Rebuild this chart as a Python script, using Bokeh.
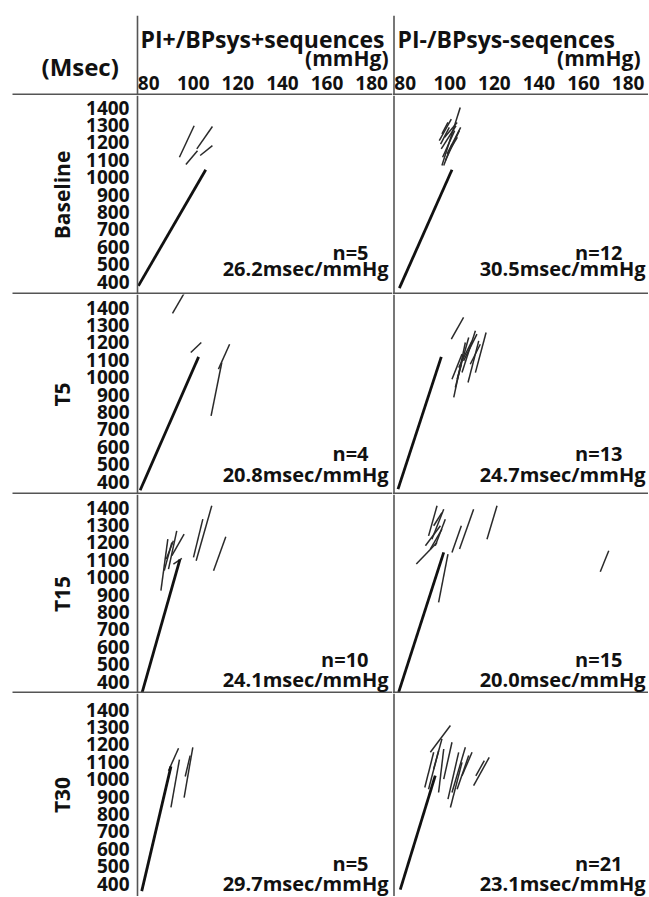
from bokeh.plotting import figure
from bokeh.layouts import column, row
from bokeh.models import Range1d, LinearAxis, FixedTicker, Label, Span, ColumnDataSource
from bokeh.embed import file_html
from bokeh.resources import INLINE

# ---------------- data ----------------
row_names = ["Baseline", "T5", "T15", "T30"]
col_titles = ["PI+/BPsys+sequences", "PI-/BPsys-seqences"]
y_unit = "(Msec)"
x_unit = "(mmHg)"
x_ticks = [80, 100, 120, 140, 160, 180]
y_ticks = [400, 500, 600, 700, 800, 900, 1000, 1100, 1200, 1300, 1400]

n_plus = [5, 4, 10, 5]
slope_plus = [26.2, 20.8, 24.1, 29.7]
n_minus = [12, 13, 15, 21]
slope_minus = [30.5, 24.7, 20.0, 23.1]

# regression lines (x0, y0, x1, y1) in mmHg / msec
reg_plus = [(75.4, 375, 105.6, 1042), (76.2, 350, 102.4, 1116),
            (76.9, 329, 94.0, 1100), (76.9, 356, 90.0, 1073)]
reg_minus = [(77.4, 362, 101.0, 1042), (76.8, 356, 96.2, 1116),
             (77.1, 339, 97.3, 1142), (77.8, 365, 93.5, 1020)]

# individual sequences (x0, y0, x1, y1)
seq_baseline_plus = [(93.8, 1114, 100.4, 1295), (96.7, 1072, 101.9, 1152),
                     (101.6, 1162, 108.6, 1291), (103.1, 1124, 108.6, 1181)]
seq_baseline_minus = [(96.5, 1067, 104.7, 1400), (95.3, 1210, 100.7, 1333),
                      (96.2, 1162, 102.8, 1295), (96.8, 1114, 102.2, 1267),
                      (98.0, 1095, 104.3, 1267), (97.3, 1067, 101.0, 1190),
                      (98.8, 1133, 104.9, 1286), (95.9, 1190, 99.8, 1286),
                      (97.7, 1229, 103.3, 1314), (99.8, 1152, 103.4, 1229),
                      (96.5, 1248, 99.2, 1314)]
seq_t5_plus = [(90.7, 1366, 96.3, 1490), (98.9, 1141, 103.6, 1199),
               (108.0, 777, 112.8, 1084), (111.3, 1046, 116.3, 1189)]
seq_t5_minus = [(100.7, 1218, 106.2, 1343), (101.8, 883, 107.0, 1199),
                (103.3, 988, 108.5, 1228), (105.5, 1026, 111.5, 1266),
                (108.2, 969, 113.0, 1208), (111.5, 1026, 116.3, 1256),
                (101.0, 988, 105.5, 1132), (104.0, 1055, 110.0, 1208),
                (106.2, 1093, 112.2, 1247), (109.2, 1074, 113.7, 1189),
                (102.5, 940, 105.2, 1074)]
seq_t15_plus = [(85.5, 922, 88.6, 1218), (87.0, 1037, 90.4, 1199),
                (88.9, 1046, 92.6, 1266), (90.4, 1123, 95.9, 1247),
                (100.1, 1113, 104.3, 1333), (101.3, 1094, 108.3, 1410),
                (109.1, 1037, 114.6, 1232), (87.9, 1104, 91.1, 1209),
                (91.1, 1075, 94.9, 1107)]
seq_t15_minus = [(85.0, 1075, 94.3, 1199), (90.5, 1237, 94.3, 1410),
                 (92.0, 1218, 97.3, 1390), (93.5, 1180, 98.0, 1333),
                 (95.0, 855, 99.2, 1132), (101.0, 1142, 105.2, 1295),
                 (104.4, 1161, 110.7, 1390), (116.7, 1218, 121.2, 1410),
                 (167.5, 1031, 171.3, 1151), (89.1, 1180, 95.8, 1295),
                 (91.3, 1161, 96.5, 1276), (92.8, 1295, 96.5, 1371)]
seq_t30_plus = [(90.0, 837, 93.8, 1112), (88.9, 1048, 93.4, 1177),
                (95.9, 894, 99.8, 1183), (96.4, 1015, 98.6, 1135)]
seq_t30_minus = [(91.3, 1154, 100.3, 1308), (88.8, 952, 92.8, 1154),
                 (90.5, 942, 95.0, 1163), (95.0, 923, 97.3, 1173),
                 (97.3, 1000, 101.0, 1212), (99.2, 885, 104.0, 1154),
                 (100.3, 837, 105.5, 1096), (101.0, 923, 107.0, 1183),
                 (103.3, 942, 108.5, 1135), (105.5, 1019, 110.0, 1154),
                 (110.7, 962, 117.7, 1125), (111.7, 1019, 115.5, 1106),
                 (92.8, 1058, 96.5, 1231)]

seq_plus = [seq_baseline_plus, seq_t5_plus, seq_t15_plus, seq_t30_plus]
seq_minus = [seq_baseline_minus, seq_t5_minus, seq_t15_minus, seq_t30_minus]

# ---------------- layout / style ----------------
FONT = "Open Sans"
INK = "#111111"
RULE = "#555555"
W_L, W_R = 392, 256          # left figure includes the label column
LABEL_COL = 137              # px from left edge of left figure to y axis
RULE_START = 12              # px where the horizontal rules begin
HDR_H, HDR_TOP = 95, 15
ROW_H = [199, 200, 199, 203]
TOP_PAD = [12, 13, 13, 16]   # px from row top to the 1400 tick
PX_MMHG = 2.23
PX_MSEC = 0.174
X0 = 75.0                    # mmHg at the panel's left divider

n_top = [157, 159, 165, 170]      # px from row top (text centres)
s_top = [173, 180, 185, 190]


def xr_left():
    s = X0 - LABEL_COL / PX_MMHG
    return Range1d(s, s + W_L / PX_MMHG)


def xr_right():
    s = X0 - 1.5 / PX_MMHG
    return Range1d(s, s + W_R / PX_MMHG)


def base_fig(w, h, xr, yr, top=0):
    p = figure(width=w, height=h, x_range=xr, y_range=yr,
               output_backend="svg", toolbar_location=None,
               x_axis_location=None, y_axis_location=None,
               min_border=0, min_border_top=top)
    p.min_border_left = 0
    p.min_border_right = 0
    p.min_border_bottom = 0
    p.outline_line_color = None
    p.xgrid.visible = False
    p.ygrid.visible = False
    p.background_fill_color = "white"
    p.border_fill_color = "white"
    return p


def hrule(p, y, left):
    """horizontal separator drawn as a bare axis line (no ticks, no labels)"""
    xr = p.x_range
    start = xr.start + (RULE_START / PX_MMHG if left else 0)
    ax = LinearAxis(ticker=FixedTicker(ticks=[]), fixed_location=y,
                    bounds=(start, xr.end))
    ax.axis_line_color = RULE
    ax.axis_line_width = 2
    ax.major_tick_line_color = None
    ax.minor_tick_line_color = None
    p.add_layout(ax, "below")


def label(p, x, y, text, size, align="left"):
    p.add_layout(Label(x=x, y=y, x_units="screen", y_units="screen", text=text,
                       text_font=FONT, text_font_style="bold",
                       text_font_size=size, text_color=INK,
                       text_align=align, text_baseline="middle"))


def header(xr, title, w, left):
    p = base_fig(w, HDR_H, xr, Range1d(0, HDR_H - HDR_TOP), top=HDR_TOP)
    ax = LinearAxis(ticker=FixedTicker(ticks=x_ticks), fixed_location=27)
    ax.axis_line_color = None
    ax.major_tick_line_color = None
    ax.minor_tick_line_color = None
    ax.major_label_standoff = 1
    ax.major_label_text_font = FONT
    ax.major_label_text_font_style = "bold"
    ax.major_label_text_font_size = "19px"
    ax.major_label_text_color = INK
    p.add_layout(ax, "below")
    p.add_layout(Span(location=X0, dimension="height", line_color=RULE, line_width=1.6))
    hrule(p, 1, left)
    if left:
        label(p, 41, 29, y_unit, "24px")
        label(p, LABEL_COL + 3, 57, title, "23px")
        label(p, w - 4, 38, x_unit, "21px", "right")
    else:
        label(p, 5, 57, title, "23px")
        label(p, w - 8, 38, x_unit, "21px", "right")
    return p


def panel(i, left):
    h = ROW_H[i]
    y_end = 1400 + TOP_PAD[i] / PX_MSEC
    y_start = y_end - h / PX_MSEC
    w = W_L if left else W_R
    p = base_fig(w, h, xr_left() if left else xr_right(), Range1d(y_start, y_end))
    segs = seq_plus[i] if left else seq_minus[i]
    src = ColumnDataSource(dict(x0=[s[0] for s in segs], y0=[s[1] for s in segs],
                                x1=[s[2] for s in segs], y1=[s[3] for s in segs]))
    p.segment("x0", "y0", "x1", "y1", source=src, line_color="#2a2a2a", line_width=1.5)
    r = reg_plus[i] if left else reg_minus[i]
    p.segment(x0=[r[0]], y0=[r[1]], x1=[r[2]], y1=[r[3]], line_color=INK, line_width=2.8)
    if left:
        ax = LinearAxis(ticker=FixedTicker(ticks=y_ticks), fixed_location=X0,
                        axis_label=row_names[i])
        ax.axis_line_color = RULE
        ax.axis_line_width = 1.6
        ax.major_tick_line_color = None
        ax.minor_tick_line_color = None
        ax.major_label_standoff = 2
        ax.major_label_text_font = FONT
        ax.major_label_text_font_style = "bold"
        ax.major_label_text_font_size = "19px"
        ax.major_label_text_color = INK
        ax.axis_label_text_font = FONT
        ax.axis_label_text_font_style = "bold"
        ax.axis_label_text_font_size = "21px"
        ax.axis_label_text_color = INK
        ax.axis_label_standoff = 7
        p.add_layout(ax, "left")
        n, s = n_plus[i], slope_plus[i]
        xr_txt = w - 4
        xn_txt = w - 24
    else:
        p.add_layout(Span(location=X0, dimension="height", line_color=RULE, line_width=1.6))
        n, s = n_minus[i], slope_minus[i]
        xr_txt = w - 3
        xn_txt = w - 26
    if i < 3:
        hrule(p, y_start + 1 / PX_MSEC, left)
    label(p, xn_txt, h - n_top[i], f"n={n}", "20px", "right")
    label(p, xr_txt, h - s_top[i], f"{s:.1f}msec/mmHg", "20px", "right")
    return p


rows_ = [row(header(xr_left(), col_titles[0], W_L, True),
             header(xr_right(), col_titles[1], W_R, False))]
for i in range(4):
    rows_.append(row(panel(i, True), panel(i, False)))

layout = column(*rows_)
open("out.html", "w").write(file_html(layout, INLINE))
